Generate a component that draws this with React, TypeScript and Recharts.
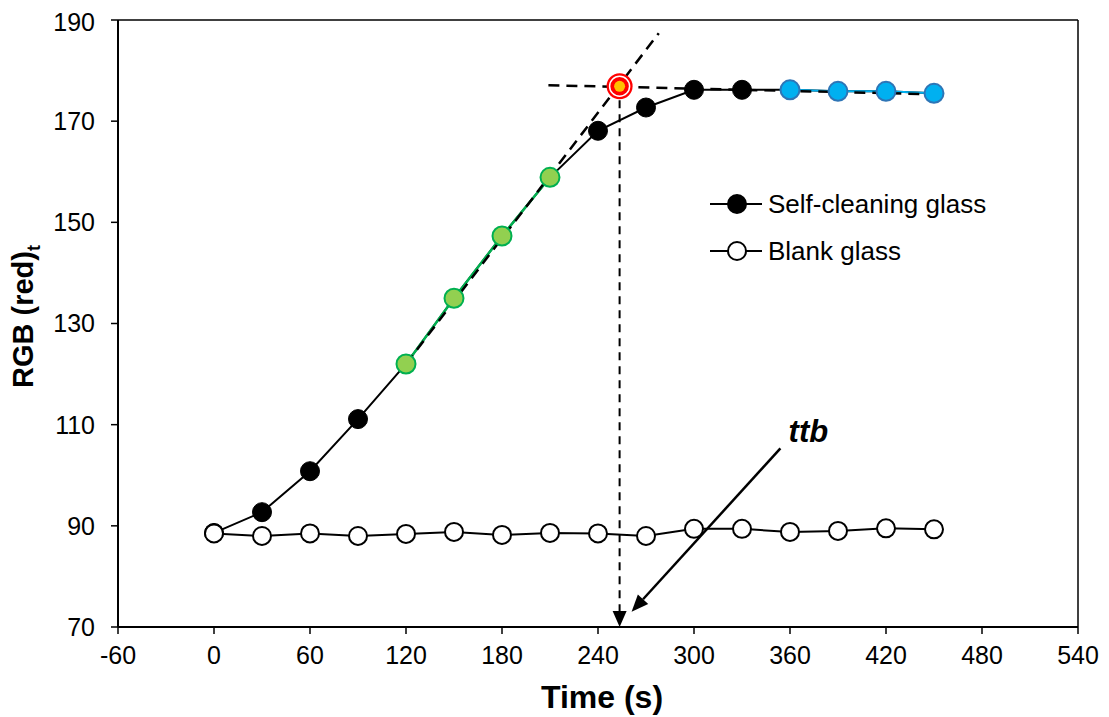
import React from "react";
import {
  LineChart,
  Line,
  XAxis,
  YAxis,
  ReferenceLine,
  ReferenceDot,
} from "recharts";

const times = [0, 30, 60, 90, 120, 150, 180, 210, 240, 270, 300, 330, 360, 390, 420, 450];
const selfCleaning = [88.6, 92.7, 100.8, 111.1, 122, 135, 147.3, 158.9, 168.1, 172.7, 176.2, 176.2, 176.2, 175.9, 175.9, 175.5];
const blankGlass = [88.5, 88.0, 88.5, 88.0, 88.4, 88.8, 88.2, 88.6, 88.5, 88.0, 89.4, 89.4, 88.8, 89.0, 89.5, 89.3];
const xTicks = [-60, 0, 60, 120, 180, 240, 300, 360, 420, 480, 540];
const yTicks = [70, 90, 110, 130, 150, 170, 190];

// fit ranges (by time)
const riseRange = [120, 210];
const plateauRange = [360, 450];

// construction lines
const tangent = [{ x: 120, y: 122 }, { x: 278, y: 187.4 }];
const plateau = [{ x: 209, y: 177.1 }, { x: 452, y: 175.3 }];
const ttbTime = 253.5;
const ttbValue = 176.9;
const ttbArrow = [{ x: 354, y: 105.3 }, { x: 261, y: 73 }];

const font = "'Liberation Sans', Arial, sans-serif";

const data = times.map((t, i) => ({
  time: t,
  self: selfCleaning[i],
  blank: blankGlass[i],
  rise: t >= riseRange[0] && t <= riseRange[1] ? selfCleaning[i] : null,
  plat: t >= plateauRange[0] && t <= plateauRange[1] ? selfCleaning[i] : null,
}));

function SelfDot(props: any) {
  const { cx, cy, payload } = props;
  if (cx == null || cy == null) return null;
  const t = payload.time;
  if (t >= riseRange[0] && t <= riseRange[1]) {
    return <circle key={t} cx={cx} cy={cy} r={9.5} fill="#92D050" stroke="#00B050" strokeWidth={2} />;
  }
  if (t >= plateauRange[0] && t <= plateauRange[1]) {
    return <circle key={t} cx={cx} cy={cy} r={9.5} fill="#00B0F0" stroke="#2E75B6" strokeWidth={2} />;
  }
  return <circle key={t} cx={cx} cy={cy} r={9.5} fill="#000" stroke="#000" strokeWidth={1} />;
}

function BlankDot(props: any) {
  const { cx, cy, payload } = props;
  if (cx == null || cy == null) return null;
  return <circle key={payload.time} cx={cx} cy={cy} r={9} fill="#fff" stroke="#000" strokeWidth={2} />;
}

function DashedArrow(props: any) {
  const { x1, y1, x2, y2 } = props;
  return (
    <g>
      <line x1={x1} y1={y1} x2={x2} y2={y2 - 14} stroke="#000" strokeWidth={2} strokeDasharray="8 6" />
      <polygon points={`${x2},${y2} ${x2 - 7},${y2 - 16} ${x2 + 7},${y2 - 16}`} fill="#000" />
    </g>
  );
}

function TtbArrow(props: any) {
  const { x1, y1, x2, y2 } = props;
  const dx = x2 - x1;
  const dy = y2 - y1;
  const len = Math.sqrt(dx * dx + dy * dy);
  const ux = dx / len;
  const uy = dy / len;
  const bx = x2 - ux * 17;
  const by = y2 - uy * 17;
  return (
    <g>
      <line x1={x1} y1={y1} x2={bx} y2={by} stroke="#000" strokeWidth={2.5} />
      <polygon
        points={`${x2},${y2} ${bx - uy * 7},${by + ux * 7} ${bx + uy * 7},${by - ux * 7}`}
        fill="#000"
      />
      <text
        x={x1 + 28}
        y={y1 - 6}
        textAnchor="middle"
        fontFamily={font}
        fontSize={31}
        fontWeight="bold"
        fontStyle="italic"
        fill="#000"
      >
        ttb
      </text>
    </g>
  );
}

function DashedSeg(props: any) {
  const { x1, y1, x2, y2 } = props;
  return <line x1={x1} y1={y1} x2={x2} y2={y2} stroke="#000" strokeWidth={2.5} strokeDasharray="11 7" />;
}

function PeakMarker(props: any) {
  const { cx, cy } = props;
  return (
    <g>
      <circle cx={cx} cy={cy} r={13} fill="#FF0000" />
      <circle cx={cx} cy={cy} r={10} fill="none" stroke="#fff" strokeWidth={1.5} />
      <circle cx={cx} cy={cy} r={5.5} fill="#FFC000" />
    </g>
  );
}

function YLabel(props: any) {
  const { viewBox } = props;
  const cx = 25;
  const cy = viewBox.y + viewBox.height / 2 - 7;
  return (
    <text
      x={cx}
      y={cy}
      transform={`rotate(-90, ${cx}, ${cy})`}
      textAnchor="middle"
      fontFamily={font}
      fontSize={29}
      fontWeight="bold"
      fill="#000"
    >
      RGB (red)
      <tspan fontSize={18} dy={7}>t</tspan>
    </text>
  );
}

function XLabel(props: any) {
  const { viewBox } = props;
  const cx = viewBox.x + viewBox.width / 2 + 4;
  return (
    <text
      x={cx}
      y={700}
      textAnchor="middle"
      fontFamily={font}
      fontSize={32}
      fontWeight="bold"
      fill="#000"
    >
      Time (s)
    </text>
  );
}

function LegendBox() {
  const rows = [
    { name: "Self-cleaning glass", fill: "#000" },
    { name: "Blank glass", fill: "#fff" },
  ];
  return (
    <svg width={320} height={90} style={{ position: "absolute", left: 694, top: 180 }}>
      {rows.map((r, i) => {
        const y = 16 + i * 47;
        return (
          <g key={r.name}>
            <line x1={8} y1={y} x2={60} y2={y} stroke="#000" strokeWidth={2} />
            <circle cx={35} cy={y} r={9} fill={r.fill} stroke="#000" strokeWidth={2} />
            <text x={66} y={y} dominantBaseline="central" fontFamily={font} fontSize={26} fill="#000">
              {r.name}
            </text>
          </g>
        );
      })}
    </svg>
  );
}

export default function App() {
  return (
    <div style={{ position: "relative", width: 1101, height: 709 }}>
      <LineChart
        width={1101}
        height={709}
        data={data}
        margin={{ top: 12, right: 31, bottom: 30, left: 10 }}
      >
        <XAxis
          dataKey="time"
          type="number"
          domain={[-60, 540]}
          ticks={xTicks}
          height={60}
          tick={{ fontSize: 25, fill: "#000", fontFamily: font }}
          tickSize={7}
          tickMargin={12}
          axisLine={{ stroke: "#000", strokeWidth: 2 }}
          tickLine={{ stroke: "#000", strokeWidth: 1.5 }}
          label={<XLabel />}
        />
        <YAxis
          type="number"
          domain={[70, 190]}
          ticks={yTicks}
          width={100}
          tick={{ fontSize: 25, fill: "#000", fontFamily: font }}
          tickSize={7}
          tickMargin={16}
          axisLine={{ stroke: "#000", strokeWidth: 2 }}
          tickLine={{ stroke: "#000", strokeWidth: 1.5 }}
          label={<YLabel />}
        />
        <ReferenceLine y={190} stroke="#000" strokeWidth={1.5} />
        <ReferenceLine x={540} stroke="#000" strokeWidth={1.5} />
        <Line dataKey="self" stroke="#000" strokeWidth={2} dot={false} isAnimationActive={false} />
        <Line dataKey="rise" stroke="#00B050" strokeWidth={2.5} dot={false} isAnimationActive={false} />
        <Line dataKey="plat" stroke="#00B0F0" strokeWidth={2} dot={false} isAnimationActive={false} />
        <Line dataKey="self" stroke="none" dot={<SelfDot />} activeDot={false} isAnimationActive={false} />
        <ReferenceDot x={ttbTime} y={ttbValue} shape={<PeakMarker />} />
        <ReferenceLine segment={tangent} shape={<DashedSeg />} />
        <ReferenceLine segment={plateau} shape={<DashedSeg />} />
        <ReferenceLine
          segment={[{ x: ttbTime, y: ttbValue }, { x: ttbTime, y: 70 }]}
          shape={<DashedArrow />}
        />
        <Line dataKey="blank" stroke="#000" strokeWidth={2} dot={<BlankDot />} activeDot={false} isAnimationActive={false} />
        <ReferenceLine segment={ttbArrow} shape={<TtbArrow />} />
      </LineChart>
      <LegendBox />
    </div>
  );
}
